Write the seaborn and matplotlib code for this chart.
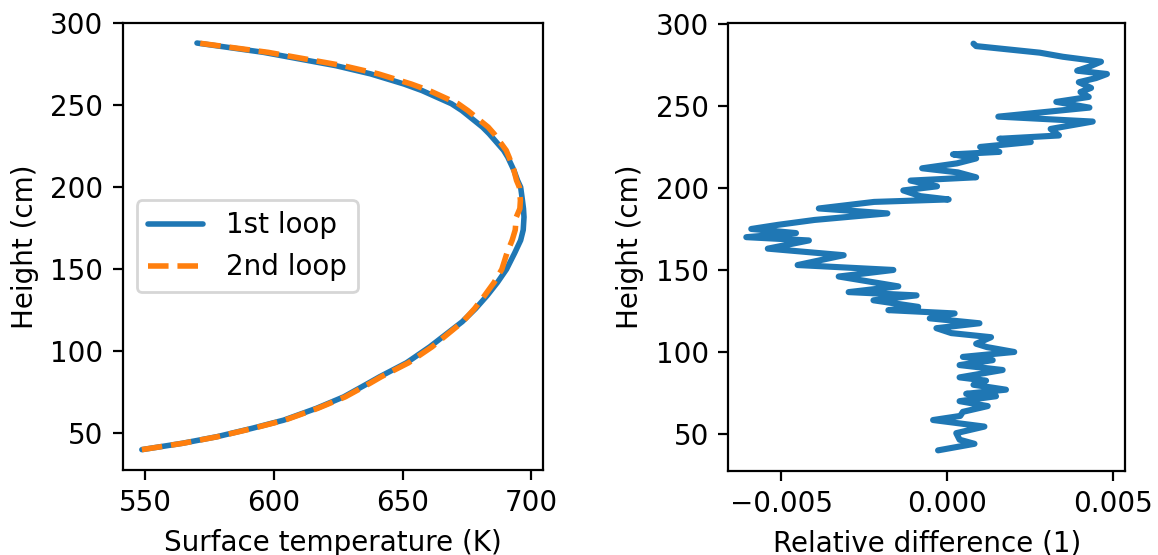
import matplotlib
matplotlib.use("Agg")
import matplotlib.pyplot as plt
import seaborn as sns
import pandas as pd
import numpy as np

# surface temperature profile
height_coarse = [40, 43.9, 47.9, 53, 58, 65.2, 72.2, 80.4, 84.4, 93, 102.7, 118, 126, 134,
                 142, 150, 160, 167.7, 174, 181.8, 187, 192, 200.1, 204.2, 210.3, 218.4,
                 222.5, 232.6, 236.7, 246.8, 251, 259, 263, 269.2, 274.2, 282.3, 288]
temp_loop1 = [548.7, 564.5, 577.9, 591.5, 603.8, 616.5, 627.1, 636.5, 641.0, 651.5, 660.5,
              673.1, 678.3, 682.8, 686.8, 690.3, 693.5, 695.8, 696.8, 697.1, 696.9, 696.5,
              695.8, 694.6, 693.2, 690.8, 689.2, 683.6, 681.0, 673.0, 668.9, 657.5, 650.5,
              637.5, 624.0, 596.0, 570.1]
temp_loop2 = [548.7, 564.7, 578.1, 591.9, 604.2, 617.0, 627.7, 637.2, 641.6, 652.3, 661.4,
              673.3, 677.9, 681.8, 685.5, 688.5, 690.5, 692.5, 693.7, 694.1, 695.5, 695.7,
              695.3, 694.2, 693.2, 691.3, 690.2, 685.5, 683.2, 675.3, 671.5, 660.3, 653.3,
              640.5, 626.8, 597.8, 570.6]

# relative difference (in units of 1e-3)
height_fine = [40, 44, 46.5, 50.5, 54.5, 58.5, 61, 63.5, 67, 70, 73, 74.5, 77, 80, 82.5,
               84.5, 89, 92, 95, 97, 100, 103, 105, 109, 111.5, 114.5, 117.5, 120.5,
               123.5, 125.5, 127.5, 131.5, 134.5, 136.5, 140, 146, 150, 153, 159, 163,
               168, 170, 172.5, 175, 177.5, 180.5, 184.5, 187.5, 191.5, 193, 195, 198.5,
               201, 204.5, 206.5, 209.5, 212, 215, 218, 220.5, 222, 225, 228, 230, 232,
               236, 240.5, 243.5, 249, 252.5, 255.5, 258.5, 261, 264.5, 267, 269.5,
               271.5, 274, 277, 280, 282.5, 286.5, 288]
rel_diff_e3 = [-0.27, 0.83, 0.38, 0.28, 1.13, -0.42, 0.4, 0.48, 1.23, 0.38, 1.48, 0.58, 1.78,
               0.8, 1.18, 0.38, 1.68, 0.38, 1.38, 0.48, 2.03, 1.2, 0.88, 1.33, 0.13, -0.32,
               0.98, -0.52, 0.23, -1.77, -0.87, -2.22, -0.92, -2.97, -1.47, -3.27, -1.62,
               -4.51, -3.12, -5.41, -4.17, -6.06, -4.56, -5.91, -5.11, -4.0, -1.8, -3.87,
               -2.2, 0.05, -0.8, -1.32, -0.3, -1.1, 0.88, 0.33, -0.75, 0.3, 0.88, 0.18,
               1.58, 1.0, 2.53, 1.58, 3.38, 3.13, 4.4, 1.55, 4.3, 3.3, 4.28, 4.03, 4.35,
               3.98, 4.5, 4.83, 3.93, 4.3, 4.65, 3.5, 2.8, 0.88, 0.8]

sns.set_style("ticks")
plt.rcParams.update({
    "font.family": ["DejaVu Sans"],
    "font.size": 10,
    "text.color": "black",
    "axes.labelcolor": "black",
    "axes.edgecolor": "black",
    "xtick.color": "black",
    "ytick.color": "black",
    "axes.linewidth": 0.8,
})

fig, (ax1, ax2) = plt.subplots(1, 2, figsize=(5.79, 2.775), dpi=200)

df1 = pd.DataFrame({"h": height_coarse, "t1": temp_loop1, "t2": temp_loop2})
sns.lineplot(data=df1, x="t1", y="h", orient="y", ax=ax1, color="#1f77b4",
             lw=2, label="1st loop")
sns.lineplot(data=df1, x="t2", y="h", orient="y", ax=ax1, color="#ff7f0e",
             lw=2, ls="--", label="2nd loop")
ax1.set_xlabel("Surface temperature (K)")
ax1.set_ylabel("Height (cm)")
ax1.set_xticks([550, 600, 650, 700])
ax1.set_yticks([50, 100, 150, 200, 250, 300])
ax1.legend(loc="center left", frameon=True)

df2 = pd.DataFrame({"h": height_fine, "rel": np.array(rel_diff_e3) * 1e-3})
sns.lineplot(data=df2, x="rel", y="h", orient="y", ax=ax2, color="#1f77b4", lw=2.2)
ax2.set_xlabel("Relative difference (1)")
ax2.set_ylabel("Height (cm)")
ax2.set_xticks([-0.005, 0.0, 0.005])
ax2.set_yticks([50, 100, 150, 200, 250, 300])

ax1.set_position([0.1060, 0.1532, 0.3630, 0.8059])
ax2.set_position([0.6289, 0.1519, 0.3426, 0.8061])

fig.savefig("out.png", dpi=200)
